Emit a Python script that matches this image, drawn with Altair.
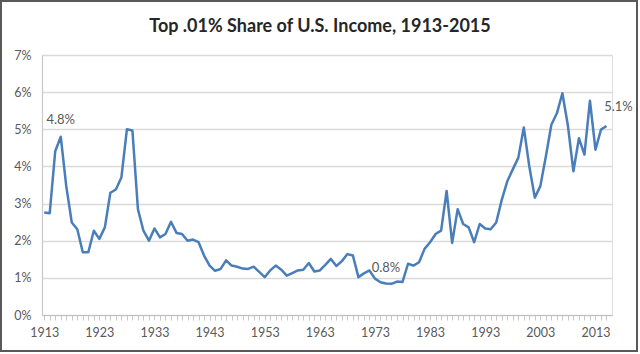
import altair as alt
import pandas as pd

years = list(range(1913, 2016))
shares = [
    2.76, 2.74, 4.41, 4.80, 3.47, 2.49, 2.31, 1.69, 1.69, 2.27,  # 1913-1922
    2.05, 2.36, 3.29, 3.38, 3.70, 5.00, 4.97, 2.85, 2.27, 2.00,  # 1923-1932
    2.33, 2.09, 2.18, 2.51, 2.21, 2.18, 2.00, 2.03, 1.96, 1.60,  # 1933-1942
    1.33, 1.19, 1.24, 1.47, 1.33, 1.30, 1.25, 1.24, 1.30, 1.16,  # 1943-1952
    1.02, 1.20, 1.33, 1.22, 1.06, 1.13, 1.20, 1.22, 1.40, 1.17,  # 1953-1962
    1.20, 1.35, 1.51, 1.32, 1.45, 1.64, 1.60, 1.02, 1.12, 1.20,  # 1963-1972
    0.98, 0.88, 0.85, 0.84, 0.90, 0.89, 1.38, 1.33, 1.42, 1.78,  # 1973-1982
    1.96, 2.18, 2.27, 3.34, 1.94, 2.85, 2.45, 2.36, 1.96, 2.45,  # 1983-1992
    2.33, 2.31, 2.49, 3.10, 3.60, 3.92, 4.23, 5.05, 4.00, 3.16,  # 1993-2002
    3.47, 4.27, 5.12, 5.43, 5.97, 5.10, 3.87, 4.76, 4.32, 5.77,  # 2003-2012
    4.45, 4.99, 5.09,                                            # 2013-2015
]
y_ticks = [0, 1, 2, 3, 4, 5, 6, 7]
label_years = [1916, 1975]
label_values = [4.8, 0.8]
label_texts = ["4.8%", "0.8%"]
end_year = [2015]
end_value = [5.09]
end_text = ["5.1%"]
title_text = ["Top .01% Share of U.S. Income, 1913-2015"]

df = pd.DataFrame({"year": years, "share": shares})
lab = pd.DataFrame({"year": label_years, "share": label_values, "text": label_texts})
endlab = pd.DataFrame({"year": end_year, "share": end_value, "text": end_text})
tdf = pd.DataFrame({"text": title_text})

FONT = "Lato"
W, H = 570, 260

xscale = alt.Scale(domain=[1912.6, 2016], nice=False, zero=False)
yscale = alt.Scale(domain=[0, 7], nice=False)

xaxis = alt.Axis(
    values=years, tickCount=len(years),
    labelExpr="(datum.value - 1913) % 10 == 0 ? datum.value : ''",
    tickSize=5, tickColor="#c8c8c8", domainColor="#bfbfbf", domainWidth=1.2,
    grid=False, labelPadding=6, title=None, labelOverlap=False, labelFlush=False,
    labelFont=FONT, labelFontSize=12.5, labelColor="#595959",
)
yaxis = alt.Axis(
    values=y_ticks, tickCount=len(y_ticks), labelExpr="datum.value + '%'",
    grid=True, gridColor="#d9d9d9", labelOverlap=False,
    gridWidth=1.4, domainColor="#c8c8c8", domainWidth=1.2, ticks=False,
    labelPadding=11, title=None, labelFont=FONT, labelFontSize=12.5,
    labelColor="#595959",
)

line = alt.Chart(df).mark_line(color="#4A7EBB", strokeWidth=2.5, strokeJoin="round").encode(
    x=alt.X("year:Q", scale=xscale, axis=xaxis),
    y=alt.Y("share:Q", scale=yscale, axis=yaxis),
)

labels = alt.Chart(lab).mark_text(
    font=FONT, fontSize=13, color="#595959", dy=-17
).encode(x=alt.X("year:Q", scale=xscale, axis=xaxis),
         y=alt.Y("share:Q", scale=yscale, axis=yaxis), text="text:N")

endlabels = alt.Chart(endlab).mark_text(
    font=FONT, fontSize=13, color="#595959", dy=-19, dx=12
).encode(x=alt.X("year:Q", scale=xscale, axis=xaxis),
         y=alt.Y("share:Q", scale=yscale, axis=yaxis), text="text:N")

frame = alt.Chart(df).mark_rect(fill=None, stroke="#595959", strokeWidth=2).encode(
    x=alt.value(-41), x2=alt.value(595), y=alt.value(-54), y2=alt.value(296)
).transform_filter("datum.year == 1913")

title = alt.Chart(tdf).mark_text(
    font=FONT, fontSize=18, fontWeight="bold", color="#262626", baseline="middle"
).encode(x=alt.value(W / 2 - 7), y=alt.value(-28), text="text:N")

chart = alt.layer(frame, line, labels, endlabels, title).properties(
    width=W, height=H,
    autosize=alt.AutoSizeParams(type="none"),
    padding={"left": 42, "top": 55, "right": 28, "bottom": 39},
).configure_view(stroke=None).configure(background="white")

chart.save("out.html", embed_options={"renderer": "svg", "actions": False})
